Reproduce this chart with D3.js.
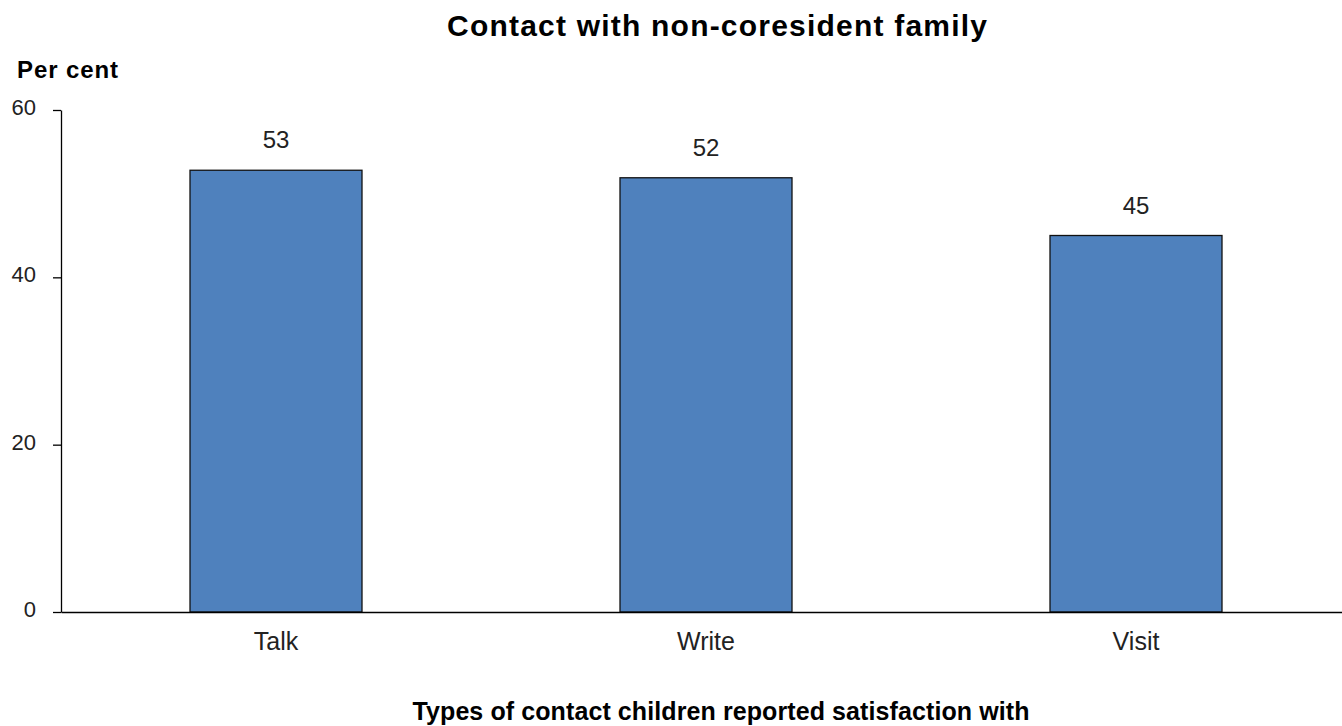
<!DOCTYPE html>
<html><head><meta charset="utf-8">
<script src="https://cdn.jsdelivr.net/npm/d3@7"></script>
<style>body{margin:0;background:#fff}svg{display:block;font-family:"Liberation Sans",Arial,sans-serif}</style>
</head><body>
<svg id="c" width="1342" height="726"></svg>
<script>
const categories = ["Talk", "Write", "Visit"];
const values = [52.8, 51.9, 45.0];
const valueLabels = ["53", "52", "45"];
const yTicks = [0, 20, 40, 60];

const svg = d3.select("#c");
const x = d3.scaleBand().domain(categories).range([61, 1351]).paddingInner(0.6).paddingOuter(0.3);
const y = d3.scaleLinear().domain([0, 60]).range([612, 110]);

svg.append("text").attr("x", 717).attr("y", 36).attr("text-anchor", "middle")
  .attr("font-size", 30).attr("font-weight", "bold")
  .attr("textLength", 540).attr("lengthAdjust", "spacing")
  .text("Contact with  non-coresident family");
svg.append("text").attr("x", 17).attr("y", 78).attr("font-size", 24).attr("font-weight", "bold")
  .attr("textLength", 101).attr("lengthAdjust", "spacing").text("Per cent");

const yAx = svg.append("g").attr("transform", "translate(61,0)")
  .call(d3.axisLeft(y).tickValues(yTicks).tickSize(8).tickSizeOuter(0).tickPadding(17));
yAx.select(".domain").attr("stroke", "#000").attr("stroke-width", 1.3);
yAx.selectAll(".tick line").attr("stroke", "#000").attr("stroke-width", 1.3);
yAx.selectAll(".tick text").attr("font-size", 22).attr("fill", "#222").attr("dy", "0.2em")
  .attr("font-family", "Liberation Sans, Arial, sans-serif");

svg.selectAll("rect.bar").data(categories).enter().append("rect").attr("class", "bar")
  .attr("x", d => x(d)).attr("width", x.bandwidth())
  .attr("y", (d, i) => y(values[i])).attr("height", (d, i) => y(0) - y(values[i]))
  .attr("fill", "#4F81BD").attr("stroke", "#111").attr("stroke-width", 1.3);

svg.selectAll("text.val").data(categories).enter().append("text").attr("class", "val")
  .attr("x", d => x(d) + x.bandwidth() / 2).attr("y", (d, i) => y(values[i]) - 22)
  .attr("text-anchor", "middle").attr("font-size", 24).attr("fill", "#222").text((d, i) => valueLabels[i]);

const xAx = svg.append("g").attr("transform", "translate(0,612)")
  .call(d3.axisBottom(x).tickSize(0).tickPadding(20));
xAx.select(".domain").attr("stroke", "#000").attr("stroke-width", 1.3);
xAx.selectAll(".tick text").attr("font-size", 25).attr("fill", "#222").attr("dy", "0.71em")
  .attr("font-family", "Liberation Sans, Arial, sans-serif");

svg.append("text").attr("x", 721).attr("y", 720).attr("text-anchor", "middle")
  .attr("font-size", 25).attr("font-weight", "bold")
  .attr("textLength", 617).attr("lengthAdjust", "spacing")
  .text("Types of  contact  children  reported satisfaction  with");
</script>
</body></html>
